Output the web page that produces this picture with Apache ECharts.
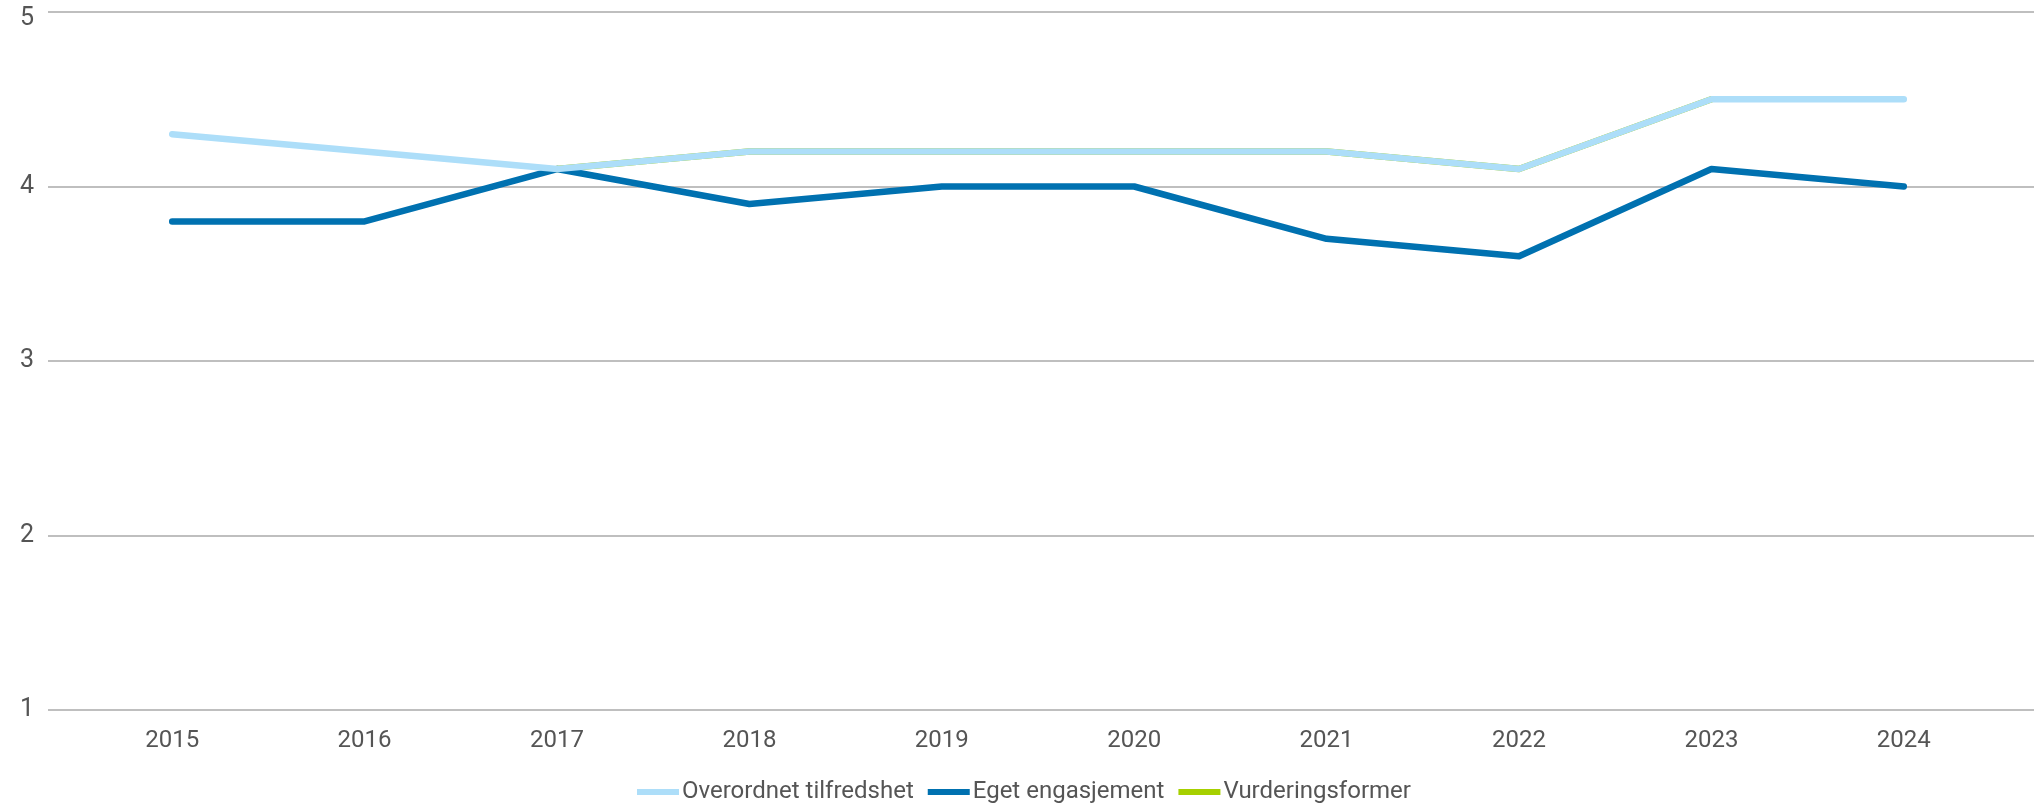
<!DOCTYPE html>
<html>
<head>
<meta charset="utf-8">
<script src="https://cdn.jsdelivr.net/npm/echarts@6/dist/echarts.min.js"></script>
<style>
html,body{margin:0;padding:0;background:#fff;}
#chart{width:2034px;height:804px;}
</style>
</head>
<body>
<div id="chart"></div>
<script>
const years = ['2015','2016','2017','2018','2019','2020','2021','2022','2023','2024'];
const overordnet = [4.3, 4.2, 4.1, 4.2, 4.2, 4.2, 4.2, 4.1, 4.5, 4.5];
const eget = [3.8, 3.8, 4.1, 3.9, 4.0, 4.0, 3.7, 3.6, 4.1, 4.0];
const vurdering = [null, null, 4.1, 4.2, 4.2, 4.2, 4.2, 4.1, 4.5, null];
const yTicks = [1, 2, 3, 4, 5];

const font = 'Roboto, "Noto Sans", sans-serif';
const yMax = yTicks[yTicks.length - 1];
const chart = echarts.init(document.getElementById('chart'), null, {renderer: 'canvas'});
chart.setOption({
  animation: false,
  backgroundColor: '#ffffff',
  grid: [
    {left: 48, right: 0, top: 12, bottom: 94, outerBoundsMode: 'none', containLabel: false},
    {left: 76, right: 34, top: 12, bottom: 94, outerBoundsMode: 'none', containLabel: false}
  ],
  legend: {
    data: ['Overordnet tilfredshet', 'Eget engasjement', 'Vurderingsformer'],
    left: 632,
    top: 775,
    icon: 'rect',
    itemWidth: 42,
    itemHeight: 6,
    itemGap: 14,
    textStyle: {fontFamily: font, fontSize: 24, color: '#555555', padding: [0, 0, 0, -2]}
  },
  xAxis: [
    {type: 'category', gridIndex: 0, data: years, show: false},
    {
      type: 'category', gridIndex: 1, data: years, boundaryGap: true,
      axisLine: {show: false}, axisTick: {show: false},
      axisLabel: {fontFamily: font, fontSize: 24, color: '#555555', margin: 19}
    }
  ],
  yAxis: [
    {
      type: 'value', gridIndex: 0, min: yTicks[0], max: yMax, interval: 1,
      axisLine: {show: false}, axisTick: {show: false},
      axisLabel: {
        fontFamily: font, fontSize: 25, color: '#555555', margin: 14,
        formatter: v => v === yMax ? '{top|' + v + '}' : String(v),
        rich: {top: {fontFamily: font, fontSize: 25, color: '#555555', lineHeight: 25, padding: [14, 0, 0, 0]}}
      },
      splitLine: {lineStyle: {color: '#aaaaaa', width: 1.5}}
    },
    {
      type: 'value', gridIndex: 1, min: yTicks[0], max: yMax, interval: 1,
      show: false, splitLine: {show: false}
    }
  ],
  series: [
    {
      name: 'Overordnet tilfredshet', type: 'line', xAxisIndex: 1, yAxisIndex: 1,
      data: overordnet, symbol: 'none', z: 4, color: '#addef9',
      lineStyle: {width: 6.5, color: '#addef9', cap: 'round', join: 'round'}
    },
    {
      name: 'Eget engasjement', type: 'line', xAxisIndex: 1, yAxisIndex: 1,
      data: eget, symbol: 'none', z: 3, color: '#0071b0',
      lineStyle: {width: 6.5, color: '#0071b0', cap: 'round', join: 'round'}
    },
    {
      name: 'Vurderingsformer', type: 'line', xAxisIndex: 1, yAxisIndex: 1,
      data: vurdering, symbol: 'none', z: 2, color: '#a6d000',
      lineStyle: {width: 6.5, color: '#a6d000', cap: 'round', join: 'round'}
    }
  ]
});
</script>
</body>
</html>
